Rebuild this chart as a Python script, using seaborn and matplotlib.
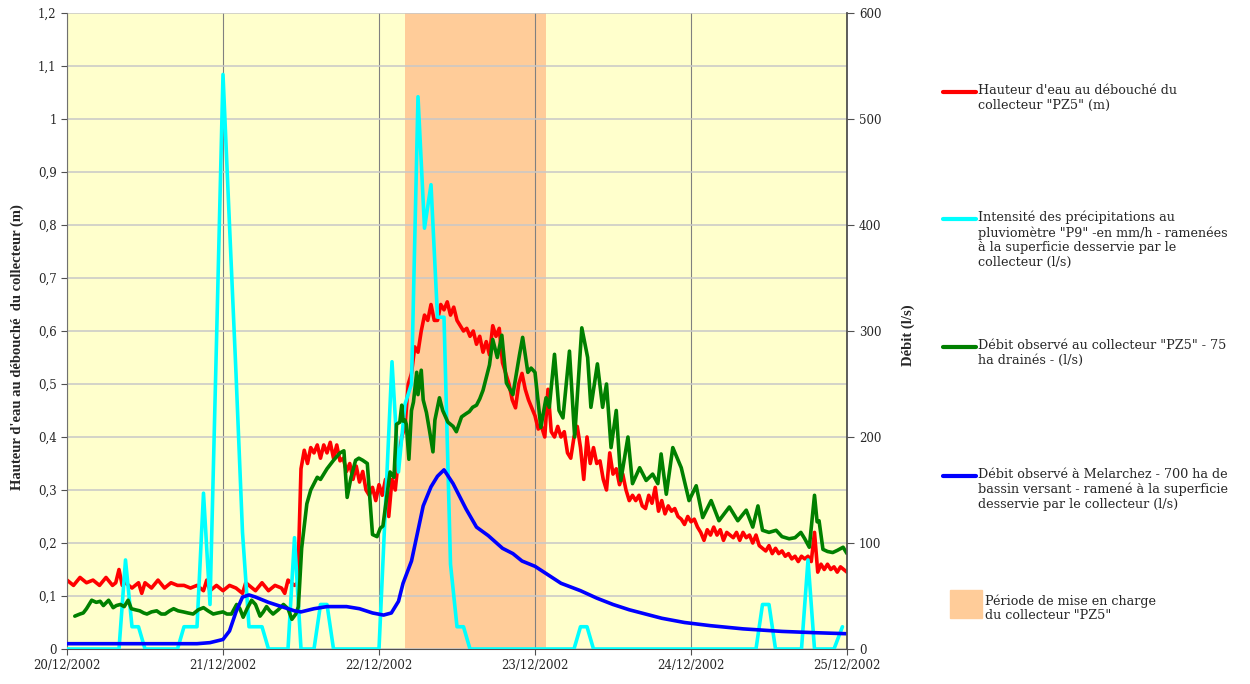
import matplotlib

matplotlib.use("Agg")

import matplotlib.dates as mdates
import matplotlib.pyplot as plt
import pandas as pd
import seaborn as sns
from matplotlib.lines import Line2D
from matplotlib.patches import Rectangle
from matplotlib.ticker import FuncFormatter, MultipleLocator

# --- données (heures depuis le 20/12/2002 00:00) ---
DEBUT = pd.Timestamp("2002-12-20")

# hauteur d'eau au débouché du collecteur PZ5 (m) - axe de gauche
h_hauteur = [
    0, 1, 2, 3, 4, 5, 6, 7, 7.5, 8, 8.5, 9, 10, 11, 11.5, 12, 13, 14, 15, 16,
    17, 18, 19, 20, 21, 21.5, 22, 23, 24, 25, 26, 27, 27.5, 28, 29, 30, 31, 32,
    33, 33.5, 34, 35, 35.5, 36, 36.5, 37, 37.5, 38, 38.5, 39, 39.5, 40, 40.5,
    41, 41.5, 42, 42.5, 43, 43.5, 44, 44.5, 45, 45.5, 46, 46.5, 47, 47.5, 48,
    48.5, 49, 49.5, 50, 50.5, 51, 51.5, 52, 52.5, 53, 53.5, 54, 54.5, 55, 55.5,
    56, 56.5, 57, 57.5, 58, 58.5, 59, 59.5, 60, 60.5, 61, 61.5, 62, 62.5, 63,
    63.5, 64, 64.5, 65, 65.5, 66, 66.5, 67, 67.5, 68, 68.5, 69, 69.5, 70, 70.5,
    71, 71.5, 72, 72.5, 73, 73.5, 74, 74.5, 75, 75.5, 76, 76.5, 77, 77.5, 78,
    78.5, 79, 79.5, 80, 80.5, 81, 81.5, 82, 82.5, 83, 83.5, 84, 84.5, 85, 85.5,
    86, 86.5, 87, 87.5, 88, 88.5, 89, 89.5, 90, 90.5, 91, 91.5, 92, 92.5, 93,
    93.5, 94, 94.5, 95, 95.5, 96, 96.5, 97, 97.5, 98, 98.5, 99, 99.5, 100,
    100.5, 101, 101.5, 102, 102.5, 103, 103.5, 104, 104.5, 105, 105.5, 106,
    106.5, 107, 107.5, 108, 108.5, 109, 109.5, 110, 110.5, 111, 111.5, 112,
    112.5, 113, 113.5, 114, 114.5, 115, 115.5, 116, 116.5, 117, 117.5, 118,
    118.5, 119, 119.5, 120,
]
hauteur = [
    0.13, 0.12, 0.135, 0.125, 0.13, 0.12, 0.135, 0.12, 0.125, 0.15, 0.12,
    0.125, 0.115, 0.125, 0.105, 0.125, 0.115, 0.13, 0.115, 0.125, 0.12, 0.12,
    0.115, 0.12, 0.11, 0.13, 0.11, 0.12, 0.11, 0.12, 0.115, 0.105, 0.125, 0.12,
    0.11, 0.125, 0.11, 0.12, 0.115, 0.105, 0.13, 0.12, 0.125, 0.34, 0.375,
    0.35, 0.38, 0.37, 0.385, 0.36, 0.385, 0.37, 0.39, 0.36, 0.385, 0.355, 0.36,
    0.335, 0.35, 0.32, 0.345, 0.315, 0.335, 0.30, 0.29, 0.305, 0.28, 0.31,
    0.29, 0.32, 0.25, 0.32, 0.30, 0.36, 0.40, 0.42, 0.50, 0.52, 0.57, 0.56,
    0.60, 0.63, 0.62, 0.65, 0.62, 0.62, 0.65, 0.64, 0.655, 0.63, 0.645, 0.62,
    0.61, 0.60, 0.605, 0.59, 0.60, 0.575, 0.59, 0.56, 0.58, 0.555, 0.61, 0.59,
    0.605, 0.54, 0.52, 0.50, 0.47, 0.455, 0.50, 0.52, 0.49, 0.47, 0.455, 0.44,
    0.415, 0.42, 0.40, 0.49, 0.41, 0.40, 0.42, 0.40, 0.41, 0.37, 0.36, 0.40,
    0.42, 0.38, 0.32, 0.40, 0.35, 0.38, 0.35, 0.355, 0.32, 0.30, 0.37, 0.33,
    0.34, 0.31, 0.33, 0.30, 0.28, 0.29, 0.28, 0.29, 0.27, 0.265, 0.29, 0.275,
    0.305, 0.26, 0.28, 0.255, 0.27, 0.26, 0.265, 0.25, 0.245, 0.235, 0.25,
    0.24, 0.245, 0.23, 0.22, 0.205, 0.225, 0.215, 0.23, 0.215, 0.225, 0.205,
    0.22, 0.215, 0.21, 0.22, 0.205, 0.22, 0.21, 0.215, 0.20, 0.215, 0.195,
    0.19, 0.185, 0.195, 0.18, 0.19, 0.18, 0.185, 0.175, 0.18, 0.17, 0.175,
    0.165, 0.175, 0.17, 0.175, 0.165, 0.22, 0.145, 0.16, 0.15, 0.16, 0.15,
    0.155, 0.145, 0.155, 0.15, 0.145,
]

# intensité des précipitations au pluviomètre P9 ramenée (l/s)
h_pluie = [
    0, 8, 9, 10, 11, 12, 17, 18, 20, 21, 22, 23, 24, 25, 26, 27, 28, 30, 31,
    34, 35, 36, 38, 39, 40, 41, 48, 50, 51, 52, 53, 54, 55, 56, 57, 58, 59, 60,
    61, 62, 78, 79, 80, 81, 106, 107, 108, 109, 113, 114, 115, 118, 119.3,
]
pluie = [
    0, 0, 84, 21, 21, 0, 0, 21, 21, 147, 42, 290, 542, 400, 260, 110, 21, 21,
    0, 0, 105, 0, 0, 42, 42, 0, 0, 271, 167, 231, 250, 521, 397, 438, 313, 313,
    80, 21, 21, 0, 0, 21, 21, 0, 0, 42, 42, 0, 0, 84, 0, 0, 21,
]

# débit observé au collecteur PZ5 (l/s)
h_debit_pz5 = [
    1.2, 2, 2.5, 3, 3.8, 4.5, 5.1, 5.6, 6.4, 7.1, 7.6, 8.2, 8.8, 9.4, 9.9, 10.5,
    11.2, 11.8, 12.3, 13, 13.8, 14.5, 15.1, 15.8, 16.4, 17.1, 17.9, 18.6, 19.4,
    20.2, 21, 21.7, 22.5, 23.2, 24, 24.6, 25.3, 26.1, 26.6, 27.1, 27.7, 28.4,
    29, 29.7, 30.2, 30.7, 31.2, 31.7, 32.5, 33.3, 34, 34.6, 35.2, 35.6, 36.1,
    36.9, 37.5, 38.5, 39, 40, 41, 42, 42.6, 43.1, 43.7, 44.4, 44.9, 45.5, 46.2,
    47, 47.7, 48.2, 48.6, 49.7, 50.3, 50.7, 51.2, 51.5, 51.7, 52, 52.2, 52.6,
    53, 53.3, 53.8, 54, 54.5, 54.8, 55.3, 55.8, 56.3, 56.6, 57.3, 57.8, 58.6,
    59.4, 59.9, 60.7, 61.4, 61.9, 62.4, 63, 63.5, 64, 65, 65.5, 66.2, 66.9,
    67.6, 68.6, 69.6, 70.1, 70.9, 71.4, 72, 72.9, 73.7, 74.2, 75, 75.7, 76.3,
    77.3, 78.1, 79.2, 80.1, 80.6, 81.6, 82.4, 83, 83.7, 84.5, 85.2, 86.3, 87,
    88.1, 89.1, 90.1, 90.9, 91.4, 92.2, 93.2, 94.5, 95.7, 96.8, 97.8, 99.1,
    100.3, 101.9, 103.2, 104.5, 105.5, 106.3, 107, 108, 109.1, 110, 111.1, 112,
    112.9, 113.5, 114.2, 115, 115.4, 115.7, 116.3, 117, 117.8, 118.5, 119.4,
    120,
]
debit_pz5 = [
    31, 33, 34, 38, 46, 44, 45, 41, 46, 39, 41, 42, 40, 46, 38, 37, 36, 34, 33,
    35, 36, 33, 33, 36, 38, 36, 35, 34, 33, 37, 39, 36, 33, 34, 35, 33, 33, 42,
    38, 30, 38, 46, 42, 31, 35, 40, 36, 33, 37, 42, 38, 28, 33, 40, 95, 137,
    150, 162, 160, 170, 178, 185, 187, 143, 162, 178, 180, 178, 175, 108, 106,
    114, 116, 167, 162, 212, 214, 230, 215, 216, 212, 179, 225, 233, 261, 240,
    263, 235, 223, 205, 186, 216, 237, 225, 214, 210, 205, 219, 222, 224, 228,
    230, 236, 244, 268, 292, 275, 296, 251, 240, 277, 294, 261, 265, 261, 209,
    237, 228, 278, 225, 218, 281, 200, 303, 275, 228, 269, 228, 250, 190, 225,
    159, 200, 156, 171, 159, 165, 156, 184, 146, 190, 171, 140, 154, 124, 140,
    121, 134, 121, 131, 115, 135, 112, 110, 112, 106, 104, 105, 110, 104, 96,
    145, 120, 121, 94, 92, 91, 93, 96, 90,
]

# débit observé à Melarchez ramené (l/s)
h_melarchez = [
    0, 10, 20, 22, 24, 25, 26, 27, 28, 29, 31, 33, 35, 36, 38, 40, 43, 45, 47,
    48.7, 49.9, 51, 51.7, 53, 54.8, 56, 57, 58, 59.4, 61.4, 63, 64.8, 67, 68.6,
    70, 72, 74, 76, 79, 81.5, 84, 86.5, 89, 91.5, 95, 99, 104, 110, 115, 120,
]
melarchez = [
    5, 5, 5, 6, 9, 17, 35, 49, 51, 49, 44, 40, 36, 35, 38, 40, 40, 38, 34, 32,
    34, 45, 62, 83, 135, 153, 163, 169, 156, 132, 115, 107, 95, 90, 83, 78, 70,
    62, 55, 48, 42, 37, 33, 29, 25, 22, 19, 16.6, 15.4, 14.4,
]

# période de mise en charge (heures)
mise_en_charge = (52.0, 73.7)

LIBELLES = [
    "Hauteur d'eau au débouché du\ncollecteur \"PZ5\" (m)",
    "Intensité des précipitations au\npluviomètre \"P9\" -en mm/h - ramenées\n"
    "à la superficie desservie par le\ncollecteur (l/s)",
    "Débit observé au collecteur \"PZ5\" - 75\nha drainés - (l/s)",
    "Débit observé à Melarchez - 700 ha de\nbassin versant - ramené à la superficie\n"
    "desservie par le collecteur (l/s)",
]
LIBELLE_PERIODE = "Période de mise en charge\ndu collecteur \"PZ5\""

COULEURS = ["#FF0000", "#00FFFF", "#008000", "#0000FF"]
FOND = "#FFFFCC"
ORANGE = "#FFCC99"


def en_dates(heures):
    return DEBUT + pd.to_timedelta(heures, unit="h")


sns.set_style("white")
plt.rcParams["font.family"] = ["DejaVu Serif"]

fig = plt.figure(figsize=(12.5, 6.84), dpi=100)
ax = fig.add_axes([67 / 1250, 35 / 684, 780 / 1250, 636 / 684])
ax2 = ax.twinx()

ax.set_facecolor(FOND)
ax.axvspan(en_dates(mise_en_charge[0]), en_dates(mise_en_charge[1]),
           color=ORANGE, zorder=0.2, lw=0)

lw = 2.6
sns.lineplot(x=en_dates(h_hauteur), y=hauteur, ax=ax, color=COULEURS[0], lw=lw)
sns.lineplot(x=en_dates(h_pluie), y=pluie, ax=ax2, color=COULEURS[1], lw=lw)
sns.lineplot(x=en_dates(h_debit_pz5), y=debit_pz5, ax=ax2, color=COULEURS[2], lw=lw)
sns.lineplot(x=en_dates(h_melarchez), y=melarchez, ax=ax2, color=COULEURS[3], lw=lw)

x0, x1 = DEBUT, DEBUT + pd.Timedelta(days=5)
ax.set_xlim(x0, x1)
ax.set_ylim(0, 1.2)
ax2.set_ylim(0, 600)

ax.yaxis.set_major_locator(MultipleLocator(0.1))
ax.yaxis.set_major_formatter(
    FuncFormatter(lambda v, _: f"{v:.1f}".replace(".0", "").replace(".", ","))
)
ax2.yaxis.set_major_locator(MultipleLocator(100))
ax.xaxis.set_major_locator(mdates.DayLocator())
ax.xaxis.set_major_formatter(mdates.DateFormatter("%d/%m/%Y"))

ax.set_axisbelow(True)
ax.grid(True, axis="y", color="#C8C8C8", lw=1.1)
ax.grid(True, axis="x", color="#808080", lw=0.8)
ax2.grid(False)

for a in (ax, ax2):
    a.spines["top"].set_visible(False)
ax.spines["left"].set_color("#707070")
ax.spines["bottom"].set_color("#505050")
ax.spines["right"].set_visible(False)
ax2.spines["left"].set_visible(False)
ax2.spines["bottom"].set_visible(False)
ax2.spines["right"].set_color("#505050")
ax2.spines["right"].set_linewidth(1.3)

ax.tick_params(axis="both", direction="out", length=4, color="#505050",
               labelsize=8.5, left=True, bottom=True)
ax.tick_params(axis="x", pad=3)
ax2.tick_params(axis="y", direction="out", length=5, color="#505050",
                labelsize=8.5, right=True)

ax.set_xlabel("")
ax.set_ylabel("Hauteur d'eau au débouché  du collecteur (m)",
              family="Liberation Serif", weight="bold", fontsize=10.5)
ax.yaxis.set_label_coords(-0.055, 0.475)
ax2.set_ylabel("Débit (l/s)", family="Liberation Serif", weight="bold",
               fontsize=10.5)
ax2.yaxis.set_label_coords(1.070, 0.494)

# légende dessinée à droite du graphique
W, H = 1250, 684
positions = [92, 219, 347, 476]
for couleur, libelle, y in zip(COULEURS, LIBELLES, positions):
    fig.add_artist(Line2D([943 / W, 976 / W], [1 - y / H, 1 - y / H],
                          color=couleur, lw=3, transform=fig.transFigure))
    fig.text(978 / W, 1 - (y - 8) / H, libelle, fontsize=9.2, va="top",
             ha="left", linespacing=1.15)
fig.add_artist(Rectangle((950 / W, 1 - 618 / H), 32 / W, 28 / H,
                         color=ORANGE, transform=fig.transFigure))
fig.text(985 / W, 1 - 594 / H, LIBELLE_PERIODE, fontsize=9.2, va="top",
         ha="left", linespacing=1.15)

fig.savefig("out.png", dpi=100)
